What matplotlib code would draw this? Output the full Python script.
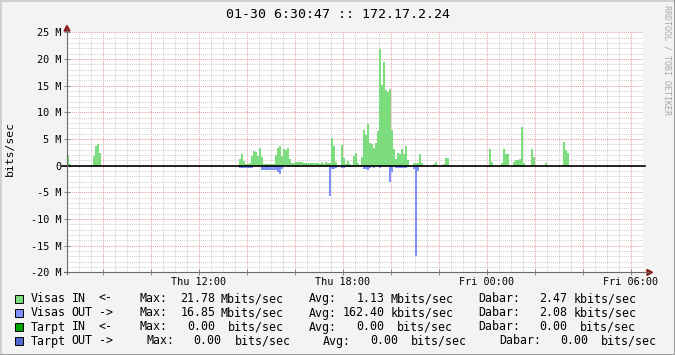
import re
import matplotlib
matplotlib.use("Agg")
import matplotlib.pyplot as plt
from matplotlib.lines import Line2D
from matplotlib.patches import Polygon, Rectangle
from matplotlib.ticker import MultipleLocator, FuncFormatter

W, H = 675, 355
STEP = 5 / 60  # 5 minute samples, in hours

# Mbit/s, runs of 5-minute samples starting at the given time
visas_in_runs = [
    ("Thu 06:30", [2.0, 0.3]),
    ("Thu 07:35", [1.8, 3.6, 4.1, 2.3]),
    ("Thu 13:35", [0.1, 1.25, 2.2, 0.9, 0.4, 0.25, 0.55, 1.8, 2.8, 2.5, 1.8, 3.4, 1.7,
                   0.3, 0.3, 0.3, 0.3, 0.3, 0.3,
                   2.0, 3.25, 3.6, 1.8, 3.1, 2.9, 3.4, 1.2,
                   0.55, 0.55, 0.75, 0.75, 0.75, 0.6, 0.5, 0.5,
                   0.45, 0.45, 0.45, 0.45, 0.45, 0.45, 0.25, 0.7, 0.4, 0.75, 0.5, 0.55,
                   5.25, 3.75, 0.75, 0.2, 0.0, 3.9, 1.4, 0.25, 0.9, 0.25, 0.2, 1.8, 2.3, 0.45, 0.1, 1.7,
                   6.7, 5.7, 7.9, 4.3, 4.1, 3.25, 4.3, 6.5, 21.78, 15.1, 19.5, 14.2, 13.9, 14.3, 6.6,
                   3.1, 1.2, 2.3, 2.2, 3.1, 2.1, 3.7, 1.1, 0.1, 0.1, 0.55, 0.55, 0.55, 2.2, 0.55,
                   0, 0, 0, 0, 0, 0.3, 0.7, 0, 0, 0, 0.3, 1.45, 1.45]),
    ("Fri 00:05", [3.1, 0.7, 0, 0, 0, 0, 0.55, 3.1, 2.1, 2.1, 0, 0, 0.75, 1.05, 1.05, 1.25,
                   7.2, 0.55, 0, 0, 0, 3.1, 1.7, 0, 0, 0, 0, 0, 0.45, 0, 0, 0, 0, 0, 0, 0, 0,
                   4.5, 2.9, 2.3]),
]

# Mbit/s outgoing (drawn below zero)
visas_out_runs = [
    ("Thu 13:40", [0.4, 0.4, 0.4, 0.4, 0.4, 0.4, 0.4]),
    ("Thu 14:35", [0.75, 0.75, 0.75, 0.75, 0.75, 0.75, 0.75, 0.75, 1.1, 1.6, 0.6]),
    ("Thu 17:25", [5.7, 0.7, 0.7, 0.5]),
    ("Thu 17:55", [0.45, 0.45, 0.25, 0.25, 0.25, 0.25]),
    ("Thu 18:50", [0.7, 0.7, 0.9, 0.5, 0, 0.4, 0, 0.3, 0.5]),
    ("Thu 19:55", [3.0, 1.1, 0, 0.35, 0.35, 0.35, 0.35, 0.35, 0.35]),
    ("Thu 20:55", [0.6, 16.85, 1.0]),
    ("Fri 00:05", [0.3]),
    ("Fri 01:25", [0.3]),
]

x_labels = {12: "Thu 12:00", 18: "Thu 18:00", 24: "Fri 00:00", 30: "Fri 06:00"}

legend_rows = [
    ("#7ddc7d", "Visas IN  <-    Max:  21.78 Mbits/sec    Avg:   1.13 Mbits/sec    Dabar:   2.47 kbits/sec"),
    ("#7f8ffc", "Visas OUT ->    Max:  16.85 Mbits/sec    Avg: 162.40 kbits/sec    Dabar:   2.08 kbits/sec"),
    ("#00a400", "Tarpt IN  <-    Max:   0.00  bits/sec    Avg:   0.00  bits/sec    Dabar:   0.00  bits/sec"),
    ("#5068d0", "Tarpt OUT ->     Max:   0.00  bits/sec     Avg:   0.00  bits/sec     Dabar:   0.00  bits/sec"),
]

title = "01-30 6:30:47 :: 172.17.2.24"


def hours(s):
    day, hm = s.split()
    h, m = hm.split(":")
    return (24 if day == "Fri" else 0) + int(h) + int(m) / 60


def expand(runs):
    xs, vs = [], []
    for start, vals in runs:
        t0 = hours(start)
        for i, v in enumerate(vals):
            xs.append(t0 + i * STEP)
            vs.append(v)
    return xs, vs


def fx(x):
    return x / W


def fy(y):
    return 1 - y / H


MONO = "DejaVu Sans Mono"

fig = plt.figure(figsize=(W / 100, H / 100), dpi=100, facecolor="#f3f3f3")
x0, x1 = 67, 643
y_top, y_bot = 32.3, 272.4
ax = fig.add_axes([fx(x0), fy(y_bot), (x1 - x0) / W, (y_bot - y_top) / H])
ax.set_facecolor("white")

xs, vs = expand(visas_in_runs)
ax.bar(xs, vs, width=STEP, align="edge", color="#7ddc7d", linewidth=0, zorder=3)
xs, vs = expand(visas_out_runs)
ax.bar(xs, [-v for v in vs], width=STEP, align="edge", color="#7f8ffc", linewidth=0, zorder=3)
# zero rule, a little wider than the data area like rrdtool's HRULE
ax.plot([6.3, 30.6], [0, 0], color="black", linewidth=1.2, zorder=4, clip_on=False)

ax.set_xlim(6.5, 30.5)
ax.set_ylim(-20, 25)

ax.xaxis.set_major_locator(MultipleLocator(2))
ax.xaxis.set_minor_locator(MultipleLocator(0.5))
ax.yaxis.set_major_locator(MultipleLocator(5))
ax.yaxis.set_minor_locator(MultipleLocator(1))
ax.xaxis.set_major_formatter(FuncFormatter(lambda v, p: x_labels.get(int(round(v)), "")))
ax.yaxis.set_major_formatter(FuncFormatter(lambda v, p: "0" if v == 0 else f"{int(v)} M"))

ax.grid(which="minor", color="#cfcfcf", linestyle=(0, (1, 1)), linewidth=0.75, zorder=1)
ax.grid(which="major", color="#e6a0a0", linestyle=(0, (1, 1)), linewidth=0.75, zorder=2)
ax.set_axisbelow(True)

ax.tick_params(which="major", direction="inout", length=4, width=0.7, color="#8a8a8a",
               labelsize=7.3, pad=2)
ax.tick_params(which="minor", length=0)
ax.tick_params(axis="x", pad=1.5)
for lab in ax.get_xticklabels() + ax.get_yticklabels():
    lab.set_family(MONO)

for s in ax.spines.values():
    s.set_visible(False)

# axis lines with arrows
fig.add_artist(Line2D([fx(x0), fx(x0)], [fy(y_bot + 2), fy(29)], color="#6a6a6a", linewidth=0.8))
fig.add_artist(Line2D([fx(x0 - 3), fx(649)], [fy(y_bot), fy(y_bot)], color="#6a6a6a", linewidth=0.8))
fig.add_artist(Polygon([(fx(x0 - 3), fy(31)), (fx(x0 + 3), fy(31)), (fx(x0), fy(25.5))],
                       closed=True, color="#8b1a1a", transform=fig.transFigure))
fig.add_artist(Polygon([(fx(647), fy(y_bot - 3)), (fx(647), fy(y_bot + 3)), (fx(652.5), fy(y_bot))],
                       closed=True, color="#8b1a1a", transform=fig.transFigure))

fig.text(fx(338), fy(14), title, ha="center", va="center", family=MONO, fontsize=9.5)
fig.text(fx(10), fy(148), "bits/sec", rotation=90, ha="center", va="center", family=MONO, fontsize=8.2)
fig.text(fx(667), fy(60), "RRDTOOL / TOBI OETIKER", rotation=270, ha="center", va="center",
         family=MONO, fontsize=6, color="#a8a8a8")

# legend: fixed character cells, like rrdtool's monospaced layout
CHAR_W = 6.78
row_y = [298.5, 313, 327, 341]
for (color, text), y in zip(legend_rows, row_y):
    fig.add_artist(Rectangle((fx(15), fy(y + 4)), 8 / W, 8 / H, facecolor=color,
                             edgecolor="black", linewidth=0.7, transform=fig.transFigure))
    for m in re.finditer(r"\S+", text):
        fig.text(fx(31 + m.start() * CHAR_W), fy(y), m.group(), ha="left", va="center",
                 family=MONO, fontsize=8.35)

# 3d-ish frame
fig.add_artist(Line2D([0, 1], [fy(0.5), fy(0.5)], color="#cfcfcf", linewidth=1.4))
fig.add_artist(Line2D([fx(0.5), fx(0.5)], [0, 1], color="#cfcfcf", linewidth=1.4))
fig.add_artist(Line2D([0, 1], [fy(H - 0.5), fy(H - 0.5)], color="#9a9a9a", linewidth=1.4))
fig.add_artist(Line2D([fx(W - 0.5), fx(W - 0.5)], [0, 1], color="#9a9a9a", linewidth=1.4))

fig.savefig("out.png", dpi=100, facecolor=fig.get_facecolor())
